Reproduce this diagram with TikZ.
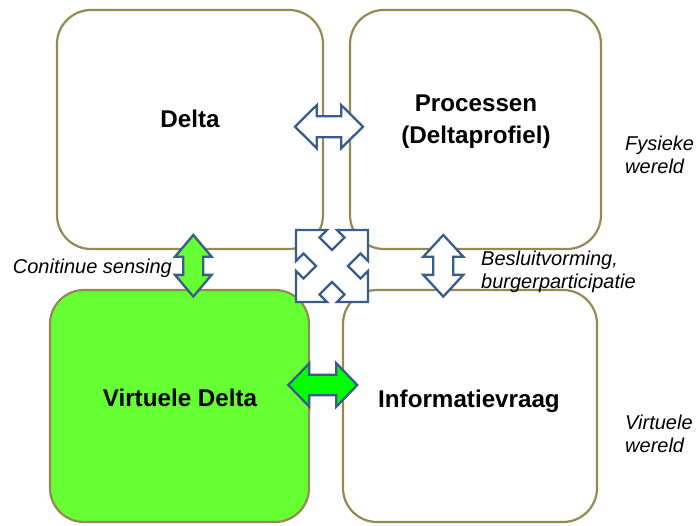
\documentclass[tikz,border=0pt]{standalone}
\usepackage{fontspec}
\setmainfont{Liberation Sans}
\definecolor{paneltan}{RGB}{148,138,84}
\definecolor{arrowblue}{RGB}{56,93,138}
\definecolor{panelgreen}{RGB}{102,255,51}
\definecolor{arrowgreen}{RGB}{0,255,0}

\tikzset{
  panel/.style={draw=paneltan, line width=2.2pt, rounded corners=34pt,
    outer sep=0pt, inner sep=0pt, anchor=north west},
  title/.style={font=\fontsize{24.2}{29}\selectfont\bfseries, inner sep=0pt, anchor=base},
  remark/.style={font=\fontsize{20}{23}\selectfont\itshape, inner sep=0pt, anchor=base west},
  blockarrow/.style={draw=arrowblue, line width=2.3pt, fill=#1},
  % double-headed block arrow: half length, head length, head half width, shaft half width
  pics/dblarrow/.style n args={4}{code={
    \path[pic actions] (-#1,0) -- (-#1+#2,-#3) -- (-#1+#2,-#4) -- (#1-#2,-#4)
      -- (#1-#2,-#3) -- (#1,0) -- (#1-#2,#3) -- (#1-#2,#4) -- (-#1+#2,#4)
      -- (-#1+#2,#3) -- cycle;
  }},
  % square with four arrows pointing into its corners
  pics/quadarrow/.style={code={
    \path[pic actions]
      (-36,-36) -- (-5,-36) -- (-12.5,-28.5) -- (0,-16) -- (12.5,-28.5) -- (5,-36)
      -- (36,-36) -- (36,-5) -- (28.5,-12.5) -- (16,0) -- (28.5,12.5) -- (36,5)
      -- (36,36) -- (5,36) -- (12.5,28.5) -- (0,16) -- (-12.5,28.5) -- (-5,36)
      -- (-36,36) -- (-36,5) -- (-28.5,12.5) -- (-16,0) -- (-28.5,-12.5) -- (-36,-5)
      -- cycle;
  }}
}

\begin{document}
\begin{tikzpicture}[x=1pt,y=-1pt]
  \useasboundingbox (0,0) rectangle (696,526);

  % four panels
  \node[panel, minimum width=266pt, minimum height=239pt] (delta) at (57,10) {};
  \node[panel, minimum width=251pt, minimum height=239pt] (proc) at (350,10) {};
  \node[panel, fill=panelgreen, minimum width=259pt, minimum height=232pt] (vdelta) at (50,290) {};
  \node[panel, minimum width=254pt, minimum height=232pt] (info) at (343,290) {};

  % block arrows between the panels
  \pic[blockarrow=white] (a1) at (329,126.7) {dblarrow={34}{21.7}{21.5}{10.5}};
  \pic[blockarrow=panelgreen, rotate=90] (a2) at (193.3,265.8) {dblarrow={30.8}{21.7}{18.3}{10}};
  \pic[blockarrow=white, rotate=90] (a3) at (443.3,265.8) {dblarrow={30.8}{21.7}{20}{10}};
  \pic[blockarrow=arrowgreen] (a4) at (322.8,385) {dblarrow={34.5}{21}{21.7}{10.3}};
  \pic[blockarrow=white] (a5) at (332,266) {quadarrow};

  % panel titles
  \node[title] (tdelta) at (190,128) {Delta};
  \node[title] (tproc1) at (476,112) {Processen};
  \node[title] (tproc2) at (476,144) {(Deltaprofiel)};
  \node[title] (tvdelta) at (180,406.5) {Virtuele Delta};
  \node[title] (tinfo) at (469,407.5) {Informatievraag};

  % side remarks
  \node[remark] (rsense) at (12.7,274) {Conitinue sensing};
  \node[remark] (rbesl1) at (481,266) {Besluitvorming,};
  \node[remark] (rbesl2) at (481,289) {burgerparticipatie};
  \node[remark] (rfys1) at (625,151) {Fysieke};
  \node[remark] (rfys2) at (625,173.5) {wereld};
  \node[remark] (rvirt1) at (625,429) {Virtuele};
  \node[remark] (rvirt2) at (625,452.5) {wereld};
\end{tikzpicture}
\end{document}
